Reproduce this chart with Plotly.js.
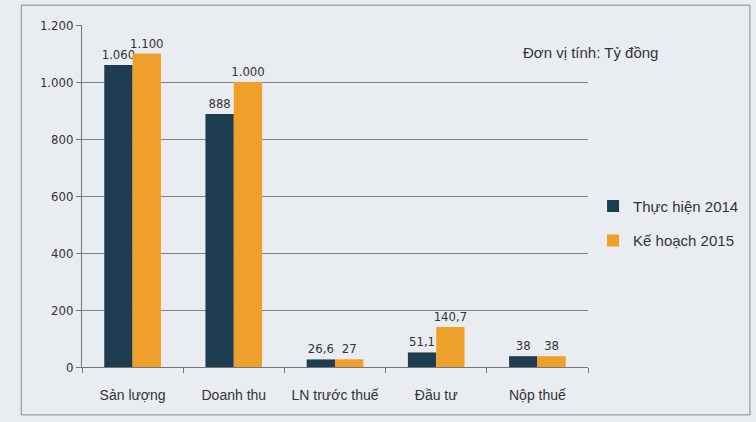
<!DOCTYPE html>
<html><head><meta charset="utf-8">
<script src="https://cdn.plot.ly/plotly-3.0.1.min.js"></script>
<style>body{margin:0;background:#e9edf2}</style>
</head><body>
<div id="chart" style="width:756px;height:422px"></div>
<script>
const categories = ["Sản lượng", "Doanh thu", "LN trước thuế", "Đầu tư", "Nộp thuế"];
const thucHien2014 = [1060, 888, 26.6, 51.1, 38];
const keHoach2015 = [1100, 1000, 27, 140.7, 38];
const labels2014 = ["1.060", "888", "26,6", "51,1", "38"];
const labels2015 = ["1.100", "1.000", "27", "140,7", "38"];
const seriesNames = ["Thực hiện 2014", "Kế hoạch 2015"];
const yTicks = [0, 200, 400, 600, 800, 1000, 1200];
const yTickText = ["0", "200", "400", "600", "800", "1.000", "1.200"];

const narrow = "Liberation Sans Narrow, Arial Narrow, Liberation Sans, sans-serif";
const labelFont = {family: "DejaVu Sans Condensed, DejaVu Sans, sans-serif", size: 13, color: "#333"};

const traces = [
  {type: "bar", name: seriesNames[0], x: categories, y: thucHien2014, text: labels2014,
   textposition: "outside", textfont: labelFont, cliponaxis: false, legendgroup: "a",
   constraintext: "none", marker: {color: "#1e3d50"}},
  {type: "bar", name: seriesNames[1], x: categories, y: keHoach2015, text: labels2015,
   textposition: "outside", textfont: labelFont, cliponaxis: false, legendgroup: "b",
   constraintext: "none", marker: {color: "#efa02a"}}
];

const layout = {
  width: 756, height: 422,
  paper_bgcolor: "#e9edf2", plot_bgcolor: "#e9edf2",
  margin: {l: 82, r: 168, t: 25, b: 55, autoexpand: false},
  barmode: "group", bargap: 0.44, bargroupgap: 0,
  separators: ",.",
  showlegend: true,
  legend: {x: 1.01, y: 0.42, xanchor: "left", yanchor: "middle", traceorder: "grouped",
    bgcolor: "rgba(0,0,0,0)", font: {family: narrow, size: 15, color: "#333"},
    itemwidth: 30, tracegroupgap: 12},
  xaxis: {type: "category", showline: true, linecolor: "#777", linewidth: 1,
    ticks: "outside", tickson: "boundaries", ticklen: 5, tickcolor: "#777", ticklabelstandoff: 15,
    tickfont: {family: narrow, size: 14, color: "#333"}, showgrid: false},
  yaxis: {range: [0, 1200], tickvals: yTicks, ticktext: yTickText,
    showline: true, linecolor: "#777", linewidth: 1, ticks: "outside", ticklen: 5, tickcolor: "#777",
    gridcolor: "#7d838a", gridwidth: 1, zeroline: false,
    tickfont: {family: "DejaVu Sans Condensed, DejaVu Sans, sans-serif", size: 13, color: "#333"}},
  annotations: [{xref: "paper", yref: "paper", x: 1.004, y: 0.92, xanchor: "center", yanchor: "middle",
    text: "Đơn vị tính: Tỷ đồng", showarrow: false, font: {family: narrow, size: 15, color: "#333"}}],
  shapes: [{type: "rect", xref: "paper", yref: "paper", x0: -0.12, x1: 1.32, y0: -0.14, y1: 1.058,
    line: {color: "#888", width: 1}, fillcolor: "rgba(0,0,0,0)", layer: "below"}]
};

Plotly.newPlot("chart", traces, layout, {displayModeBar: false, staticPlot: true});
</script>
</body></html>
